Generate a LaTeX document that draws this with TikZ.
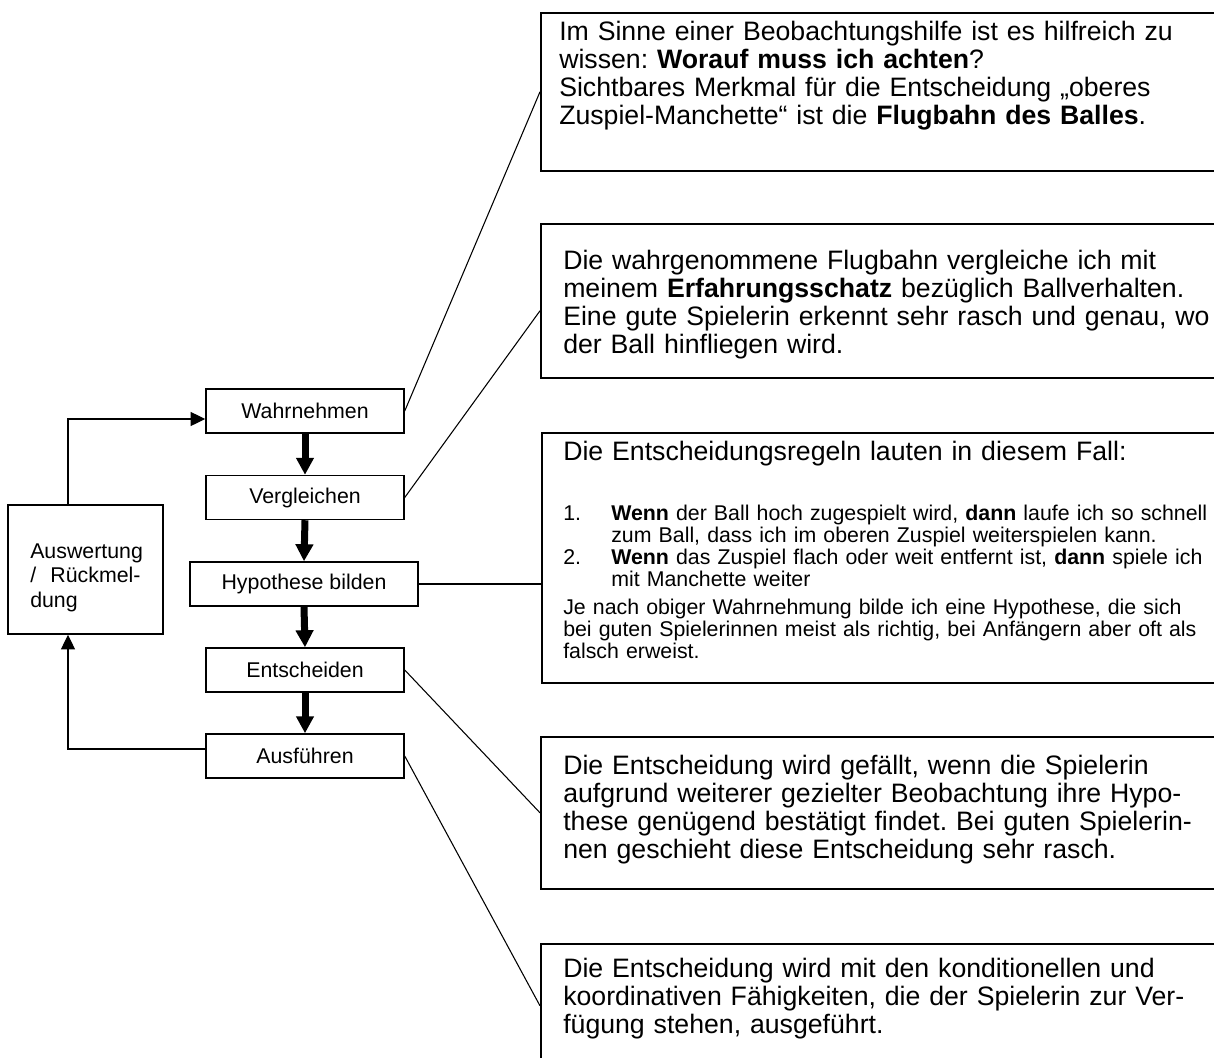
\documentclass[tikz,border=0pt]{standalone}
\usepackage{fontspec}
\setmainfont{Liberation Sans}
\usetikzlibrary{arrows.meta}
\frenchspacing
\begin{document}
\begin{tikzpicture}[x=0.75pt,y=-0.75pt,
  flowbox/.style={draw, line width=1.1pt, minimum height=33pt, inner sep=0pt,
    font=\fontsize{16pt}{18pt}\selectfont},
  rbox/.style={draw, line width=1.2pt, anchor=north west, inner sep=0pt, minimum width=517.5pt},
  bigtext/.style={font=\fontsize{20pt}{21pt}\selectfont\frenchspacing, anchor=base west, inner sep=0pt,
    align=left, text width=620pt},
  smalltext/.style={font=\fontsize{16pt}{16.5pt}\selectfont\frenchspacing, anchor=base west, inner sep=0pt,
    align=left, text width=560pt},
  auswtext/.style={font=\fontsize{16pt}{18.4pt}\selectfont, anchor=base west, inner sep=0pt,
    align=left, text width=110pt},
  thickarrow/.style={line width=5.25pt, -{Triangle[width=12.75pt,length=12.75pt]}},
  fbarrow/.style={line width=0.9pt, -{Triangle[width=10.5pt,length=11pt]}},
  callout/.style={line width=0.8pt}
]
\useasboundingbox (0,0) rectangle (1214,1057);
\clip (0,0) rectangle (1214,1057);
\fill[white] (0,0) rectangle (1214,1057);

% left flow
\node[flowbox, minimum width=148.5pt] (wahr) at (305,411) {Wahrnehmen};
\node[flowbox, minimum width=148.5pt] (vergl) at (305,497.5) {Vergleichen};
\node[flowbox, minimum width=171pt] (hypo) at (304,584) {Hypothese bilden};
\node[flowbox, minimum width=148.5pt] (entsch) at (305,670) {Entscheiden};
\node[flowbox, minimum width=148.5pt] (ausf) at (305,756) {Ausführen};
\node[draw, line width=1.1pt, minimum width=116.25pt, minimum height=96.75pt, inner sep=0pt] (ausw) at (85.5,569.5) {};
\node[auswtext] (auswlabel) at (30,558) {Auswertung\\/\ \ Rückmel-\\dung};

\draw[thickarrow] (wahr.south) -- (vergl.north);
\draw[thickarrow] (vergl.south) -- (hypo.north);
\draw[thickarrow] (hypo.south) -- (entsch.north);
\draw[thickarrow] (entsch.south) -- (ausf.north);

\coordinate (fbx) at (68,0);
\draw[fbarrow] (ausw.north -| fbx) |- ([yshift=-6pt]wahr.west);
\draw[fbarrow] ([yshift=5.25pt]ausf.west) -| (ausw.south -| fbx);

% right boxes
\node[rbox, minimum height=118.5pt] (b1) at (540,12) {};
\node[rbox, minimum height=115.5pt] (b2) at (540,223) {};
\node[rbox, minimum height=187.5pt] (b3) at (541,432) {};
\node[rbox, minimum height=114pt] (b4) at (540,736) {};
\node[rbox, minimum height=93pt] (b5) at (540,943) {};

% callouts
\draw[callout] (wahr.east) -- (b1.west);
\draw[callout] (vergl.east) -- ([yshift=-7.5pt]b2.west);
\draw[callout] (hypo.east) -- (hypo.east -| b3.west);
\draw[callout] (entsch.east) -- (b4.west);
\draw[callout] (ausf.east) -- (b5.west);

% texts
\node[bigtext] (t1) at (559,40) {Im Sinne einer Beobachtungshilfe ist es hilfreich zu\\
wissen: \textbf{Worauf muss ich achten}?\\
Sichtbares Merkmal für die Entscheidung „oberes\\
Zuspiel-Manchette“ ist die \textbf{Flugbahn des Balles}.};

\node[bigtext] (t2) at (563,269) {Die wahrgenommene Flugbahn vergleiche ich mit\\
meinem \textbf{Erfahrungsschatz} bezüglich Ballverhalten.\\
Eine gute Spielerin erkennt sehr rasch und genau, wo\\
der Ball hinfliegen wird.};

\node[bigtext] (t3) at (563,460) {Die Entscheidungsregeln lauten in diesem Fall:};
\node[smalltext, text width=30pt] (n1) at (563,520) {1.};
\node[smalltext] (i1) at (611,520) {\textbf{Wenn} der Ball hoch zugespielt wird, \textbf{dann} laufe ich so schnell\\
zum Ball, dass ich im oberen Zuspiel weiterspielen kann.};
\node[smalltext, text width=30pt] (n2) at (563,564) {2.};
\node[smalltext] (i2) at (611,564) {\textbf{Wenn} das Zuspiel flach oder weit entfernt ist, \textbf{dann} spiele ich\\
mit Manchette weiter};
\node[smalltext] (p3) at (563,614) {Je nach obiger Wahrnehmung bilde ich eine Hypothese, die sich\\
bei guten Spielerinnen meist als richtig, bei Anfängern aber oft als\\
falsch erweist.};

\node[bigtext] (t4) at (563,774) {Die Entscheidung wird gefällt, wenn die Spielerin\\
aufgrund weiterer gezielter Beobachtung ihre Hypo-\\
these genügend bestätigt findet. Bei guten Spielerin-\\
nen geschieht diese Entscheidung sehr rasch.};

\node[bigtext] (t5) at (563,977) {Die Entscheidung wird mit den konditionellen und\\
koordinativen Fähigkeiten, die der Spielerin zur Ver-\\
fügung stehen, ausgeführt.};
\end{tikzpicture}
\end{document}
